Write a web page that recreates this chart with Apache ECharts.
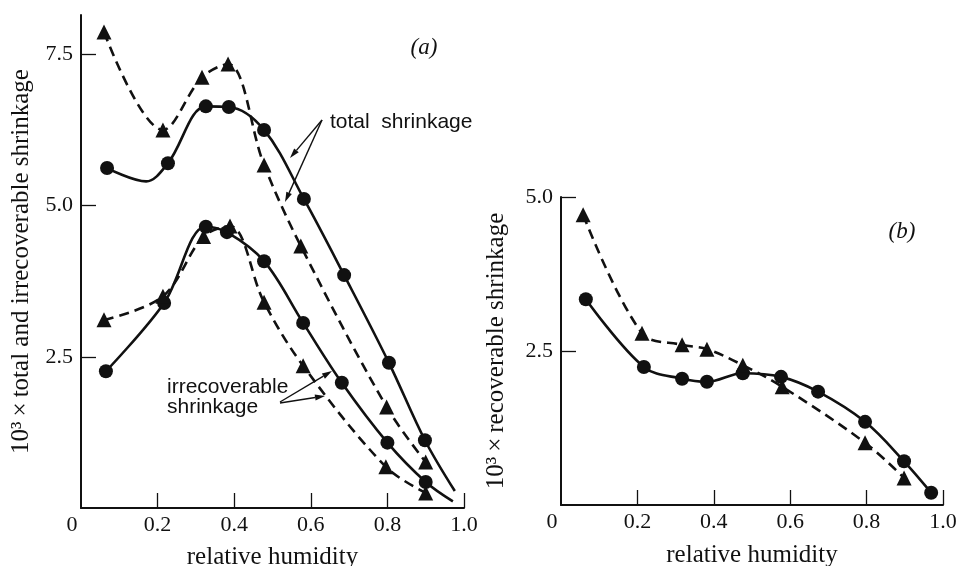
<!DOCTYPE html>
<html>
<head>
<meta charset="utf-8">
<script src="https://cdn.jsdelivr.net/npm/echarts@6/dist/echarts.min.js"></script>
<style>
  html, body { margin: 0; padding: 0; background: #fff; }
  #chart-container { width: 958px; height: 566px; }
</style>
</head>
<body>
<div id="chart-container"></div>
<script>
// tick labels
const xTicks = [0.2, 0.4, 0.6, 0.8, 1.0];
const yTicksA = [2.5, 5.0, 7.5];
const yTicksB = [2.5, 5.0];

// panel (a): total shrinkage  [relative humidity, 10^3 x shrinkage]
const totalCircles = [[0.068, 5.62], [0.17, 5.40], [0.227, 5.70], [0.326, 6.64], [0.386, 6.63], [0.478, 6.25], [0.582, 5.11], [0.687, 3.85], [0.804, 2.40], [0.898, 1.12], [0.976, 0.28]];
const totalTriangles = [[0.060, 7.87], [0.214, 6.25], [0.316, 7.12], [0.384, 7.34], [0.478, 5.67], [0.574, 4.33], [0.798, 1.67], [0.900, 0.76]];
// panel (a): irrecoverable shrinkage
const irrCircles = [[0.065, 2.26], [0.217, 3.39], [0.326, 4.65], [0.381, 4.56], [0.478, 4.08], [0.580, 3.06], [0.681, 2.07], [0.800, 1.08], [0.900, 0.43], [0.971, 0.11]];
const irrTriangles = [[0.060, 3.11], [0.214, 3.50], [0.320, 4.49], [0.389, 4.66], [0.478, 3.40], [0.580, 2.35], [0.796, 0.68], [0.900, 0.25]];
// points that lie on a drawn curve but carry no marker
const unmarked = { totalCircles: [1, 10], irrCircles: [9] };

// panel (b): recoverable shrinkage
const recCircles = [[0.065, 3.34], [0.217, 2.24], [0.317, 2.05], [0.382, 2.00], [0.476, 2.14], [0.576, 2.08], [0.673, 1.84], [0.796, 1.35], [0.898, 0.71], [0.969, 0.20]];
const recTriangles = [[0.058, 4.71], [0.212, 2.79], [0.317, 2.60], [0.382, 2.53], [0.476, 2.27], [0.579, 1.92], [0.796, 1.01], [0.898, 0.44]];

const INK = '#111';
const SERIF = 'Liberation Serif';
const SANS = 'Liberation Sans';

function series(name, pts, grid, dashed) {
  const skip = unmarked[name] || [];
  return {
    name: name,
    type: 'line',
    xAxisIndex: grid,
    yAxisIndex: grid,
    smooth: 0.35,
    symbol: dashed ? 'triangle' : 'circle',
    symbolSize: dashed ? 15 : 14,
    data: pts.map((p, i) => skip.includes(i) ? { value: p, symbol: 'none' } : p),
    lineStyle: { color: INK, width: 2.6, type: dashed ? [10, 6] : 'solid' },
    itemStyle: { color: INK },
    animation: false,
    silent: true
  };
}

function xAxis(grid) {
  return {
    type: 'value', gridIndex: grid, min: 0, max: 1,
    name: 'relative humidity', nameLocation: 'middle', nameGap: grid === 0 ? 37 : 38,
    nameTextStyle: { fontFamily: SERIF, fontSize: 25, color: INK },
    axisLine: { lineStyle: { color: INK, width: 2 } },
    axisTick: { inside: true, length: 15, customValues: xTicks, lineStyle: { color: INK, width: 1.3 } },
    axisLabel: {
      customValues: [0].concat(xTicks), margin: 6,
      fontFamily: SERIF, fontSize: 22, color: INK,
      formatter: v => v === 0 ? '{z|0}' : v.toFixed(1),
      rich: { z: { fontFamily: SERIF, fontSize: 22, color: INK, padding: [0, 18, 0, 0] } }
    },
    splitLine: { show: false }
  };
}

function yAxis(grid, max, ticks, name, gap) {
  return {
    type: 'value', gridIndex: grid, min: 0, max: max,
    name: name, nameLocation: 'middle', nameGap: gap,
    nameTextStyle: { fontFamily: SERIF, fontSize: 25, color: INK },
    axisLine: { show: true, lineStyle: { color: INK, width: 2 } },
    axisTick: { show: true, inside: true, length: 15, customValues: ticks, lineStyle: { color: INK, width: 1.3 } },
    axisLabel: {
      customValues: ticks, margin: 8,
      fontFamily: SERIF, fontSize: 22, color: INK,
      formatter: v => v.toFixed(1)
    },
    splitLine: { show: false }
  };
}

function arrow(x1, y1, x2, y2) {
  const a = Math.atan2(y2 - y1, x2 - x1), L = 10, W = 3;
  const bx = x2 - L * Math.cos(a), by = y2 - L * Math.sin(a);
  const nx = -Math.sin(a) * W, ny = Math.cos(a) * W;
  return [
    { type: 'line', shape: { x1: x1, y1: y1, x2: bx, y2: by }, style: { stroke: INK, lineWidth: 1.4 } },
    { type: 'polygon', shape: { points: [[x2, y2], [bx + nx, by + ny], [bx - nx, by - ny]] }, style: { fill: INK } }
  ];
}

function label(text, x, y, font, align) {
  return { type: 'text', x: x, y: y, style: { text: text, font: font, fill: INK, align: align || 'left', verticalAlign: 'middle' } };
}

const chart = echarts.init(document.getElementById('chart-container'));
const option = {
  backgroundColor: '#fff',
  animation: false,
  grid: [
    { left: 81, top: 15, width: 383, height: 493, outerBoundsMode: 'none', containLabel: false },
    { left: 561, top: 197, width: 382, height: 308, outerBoundsMode: 'none', containLabel: false }
  ],
  xAxis: [xAxis(0), xAxis(1)],
  yAxis: [
    yAxis(0, 8.15, yTicksA, '10\u00b3\u2009\u00d7\u2009total and irrecoverable shrinkage', 47),
    yAxis(1, 5.0, yTicksB, '10\u00b3\u2009\u00d7\u2009recoverable shrinkage', 52)
  ],
  series: [
    series('totalCircles', totalCircles, 0, false),
    series('totalTriangles', totalTriangles, 0, true),
    series('irrCircles', irrCircles, 0, false),
    series('irrTriangles', irrTriangles, 0, true),
    series('recCircles', recCircles, 1, false),
    series('recTriangles', recTriangles, 1, true)
  ],
  graphic: [
    label('(a)', 424, 48, 'italic 23px ' + SERIF, 'center'),
    label('(b)', 902, 232, 'italic 23px ' + SERIF, 'center'),
    label('total  shrinkage', 330, 122, '21px ' + SANS),
    label('irrecoverable', 167, 387, '21px ' + SANS),
    label('shrinkage', 167, 407, '21px ' + SANS)
  ].concat(
    arrow(322, 120, 290, 158),
    arrow(322, 120, 285, 202),
    arrow(280, 402, 332, 371),
    arrow(280, 403, 325, 396)
  )
};
chart.setOption(option);
</script>
</body>
</html>
